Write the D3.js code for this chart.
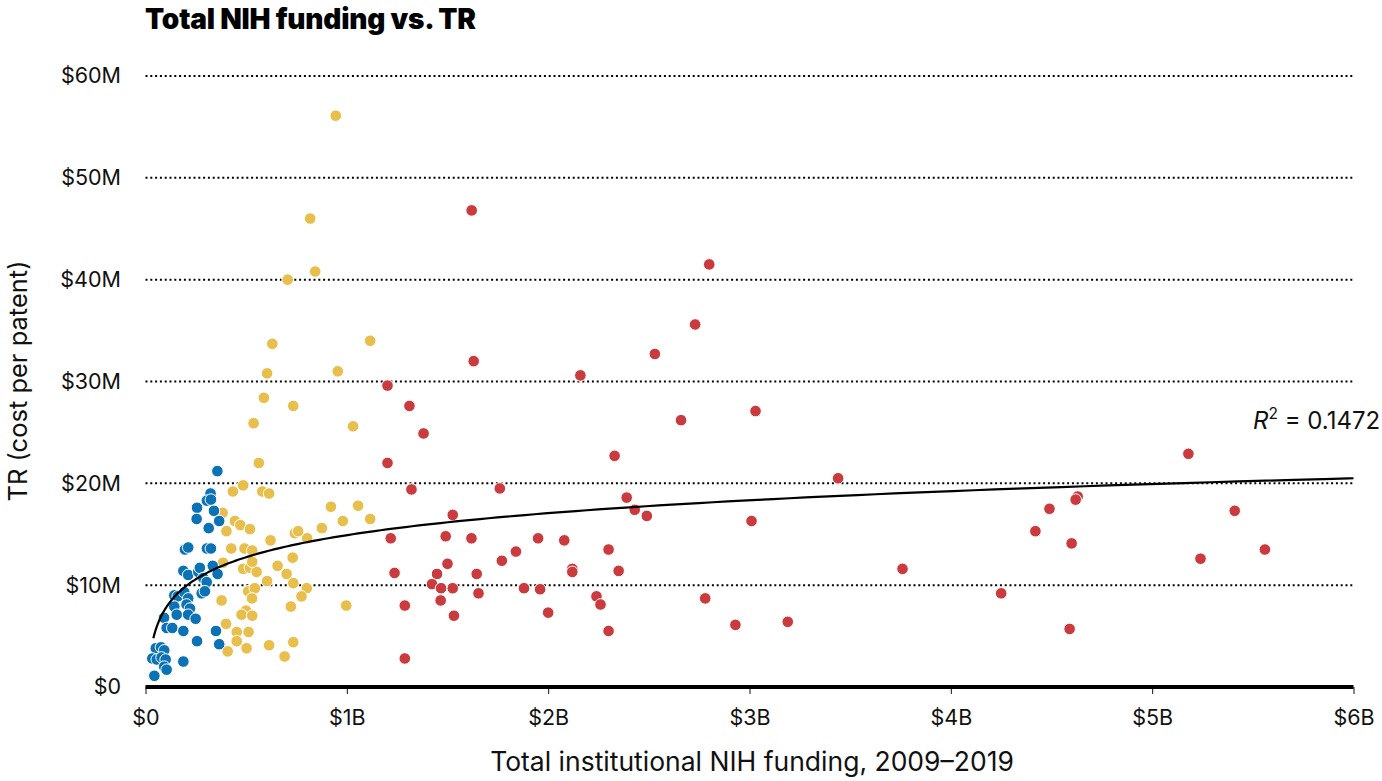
<!DOCTYPE html>
<html>
<head>
<meta charset="utf-8">
<script src="https://cdn.jsdelivr.net/npm/d3@7"></script>
<style>
  html, body { margin: 0; padding: 0; background: #fff; }
  svg { display: block; font-family: Inter, "Open Sans", sans-serif; }
</style>
</head>
<body>
<svg id="chart" width="1382" height="781"></svg>
<script>
// ---- Data (funding in $B, TR in $M) ----
const blueX = [0.357,0.323,0.305,0.325,0.256,0.340,0.254,0.366,0.314,0.196,0.212,0.305,0.325,0.188,0.212,0.262,0.270,0.334,0.358,0.287,0.304,0.279,0.295,0.143,0.160,0.193,0.212,0.143,0.204,0.221,0.155,0.212,0.249,0.092,0.105,0.133,0.188,0.350,0.256,0.366,0.051,0.077,0.093,0.034,0.056,0.080,0.100,0.188,0.093,0.105,0.044];
const blueY = [21.2,19.0,18.3,18.4,17.6,17.3,16.5,16.3,15.6,13.5,13.7,13.6,13.6,11.4,11.0,11.3,11.7,11.9,11.1,10.7,10.3,9.2,9.4,9.0,8.9,9.3,8.7,7.9,8.1,7.7,7.1,7.1,6.7,6.8,5.8,5.8,5.5,5.5,4.5,4.2,3.8,3.9,3.6,2.8,2.7,2.9,2.7,2.5,2.0,1.7,1.1];

const yellowX = [0.945,0.818,0.843,0.706,0.630,1.116,0.604,0.955,0.588,0.734,0.537,1.031,0.563,0.485,0.434,0.580,0.614,0.383,0.921,1.056,0.444,0.471,0.402,0.519,0.980,1.116,0.876,0.742,0.758,0.803,0.621,0.426,0.492,0.530,0.731,0.656,0.385,0.485,0.519,0.552,0.530,0.701,0.604,0.734,0.801,0.510,0.543,0.529,0.775,0.378,0.722,0.499,0.477,0.530,0.400,0.453,0.512,0.453,0.502,0.614,0.734,0.408,0.691,0.997];
const yellowY = [56.1,46.0,40.8,40.0,33.7,34.0,30.8,31.0,28.4,27.6,25.9,25.6,22.0,19.8,19.2,19.2,19.0,17.1,17.7,17.8,16.3,15.9,15.3,15.5,16.3,16.5,15.6,15.1,15.3,14.6,14.4,13.6,13.6,13.4,12.7,11.9,12.2,11.6,11.7,11.3,12.3,11.1,10.4,10.2,9.7,9.4,9.7,8.7,8.9,8.5,7.9,7.5,7.1,7.0,6.2,5.4,5.4,4.5,3.8,4.1,4.4,3.5,3.0,8.0];

const redX = [1.202,1.311,1.381,1.202,1.321,1.526,1.218,1.491,1.619,1.500,1.237,1.448,1.645,1.423,1.468,1.526,1.654,1.466,1.288,1.532,1.288,
              1.62,2.80,2.73,2.53,1.63,2.16,3.03,2.66,2.33,5.18,3.44,1.76,2.39,4.63,4.62,2.43,2.49,4.49,5.41,3.01,4.42,1.95,2.08,4.60,2.30,1.84,5.24,5.56,1.77,2.12,2.12,2.35,3.76,1.88,1.96,4.25,2.24,2.78,2.26,2.00,2.93,3.19,2.30,4.59];
const redY = [29.6,27.6,24.9,22.0,19.4,16.9,14.6,14.8,14.6,12.1,11.2,11.1,11.1,10.1,9.7,9.7,9.2,8.5,8.0,7.0,2.8,
              46.8,41.5,35.6,32.7,32.0,30.6,27.1,26.2,22.7,22.9,20.5,19.5,18.6,18.7,18.4,17.4,16.8,17.5,17.3,16.3,15.3,14.6,14.4,14.1,13.5,13.3,12.6,13.5,12.4,11.6,11.3,11.4,11.6,9.7,9.6,9.2,8.9,8.7,8.1,7.3,6.1,6.4,5.5,5.7];

// Log trend fit: TR = a + b * ln(funding)
const trendA = 14.91, trendB = 3.118;
const trendDomain = [0.039, 6];
const rSquared = "0.1472";

const xTicks = [0,1,2,3,4,5,6];
const xTickLabels = ["$0","$1B","$2B","$3B","$4B","$5B","$6B"];
const yTicks = [0,10,20,30,40,50,60];
const yTickLabels = ["$0","$10M","$20M","$30M","$40M","$50M","$60M"];

const colors = { blue: "#0b72b5", yellow: "#e8bf4c", red: "#c93b3f" };

// ---- Chart ----
const svg = d3.select("#chart");
const x = d3.scaleLinear().domain([0, 6]).range([145.5, 1353.5]);
const y = d3.scaleLinear().domain([0, 60]).range([687, 76]);

// title
svg.append("text")
  .attr("x", 145).attr("y", 29)
  .attr("font-size", 28).attr("font-weight", 900)
  .attr("letter-spacing", -0.2)
  .attr("fill", "#000")
  .text("Total NIH funding vs. TR");

// gridlines (dotted)
svg.append("g").selectAll("line")
  .data(yTicks.filter(d => d > 0))
  .join("line")
  .attr("x1", x(0)).attr("x2", x(6))
  .attr("y1", d => y(d)).attr("y2", d => y(d))
  .attr("stroke", "#000").attr("stroke-width", 2)
  .attr("stroke-dasharray", "2,2.8");

// y axis labels
const yAxis = d3.axisLeft(y).tickValues(yTicks)
  .tickFormat((d, i) => yTickLabels[i]).tickSize(0).tickPadding(0);
const gy = svg.append("g").attr("transform", "translate(121,0)").call(yAxis);
gy.select(".domain").remove();
gy.selectAll("text").attr("font-size", 21.5).attr("fill", "#111")
  .attr("font-family", "Inter, 'Open Sans', sans-serif");

// x axis
const xAxis = d3.axisBottom(x).tickValues(xTicks)
  .tickFormat((d, i) => xTickLabels[i]).tickSize(7).tickPadding(16);
const gx = svg.append("g").attr("transform", `translate(0,${y(0)})`).call(xAxis);
gx.select(".domain").remove();
gx.selectAll(".tick line").attr("stroke", "#111").attr("stroke-width", 1);
gx.selectAll("text").attr("font-size", 21.5).attr("fill", "#111")
  .attr("font-family", "Inter, 'Open Sans', sans-serif");

// axis titles
svg.append("text")
  .attr("transform", `translate(27,381) rotate(-90)`)
  .attr("text-anchor", "middle")
  .attr("font-size", 25.5).attr("fill", "#111")
  .text("TR (cost per patent)");

svg.append("text")
  .attr("x", 752).attr("y", 771)
  .attr("text-anchor", "middle")
  .attr("font-size", 26.5).attr("fill", "#111")
  .text("Total institutional NIH funding, 2009\u20132019");

// points
function drawSeries(xs, ys, color) {
  svg.append("g").selectAll("circle")
    .data(xs.map((v, i) => [v, ys[i]]))
    .join("circle")
    .attr("cx", d => x(d[0])).attr("cy", d => y(d[1]))
    .attr("r", 5.8)
    .attr("fill", color)
    .attr("stroke", "#fff").attr("stroke-width", 1);
}
drawSeries(redX, redY, colors.red);
drawSeries(yellowX, yellowY, colors.yellow);
drawSeries(blueX, blueY, colors.blue);

// baseline
svg.append("line")
  .attr("x1", x(0)).attr("x2", x(6))
  .attr("y1", y(0)).attr("y2", y(0))
  .attr("stroke", "#000").attr("stroke-width", 4);

// trend line
const trendX = d3.range(0, 201).map(i => trendDomain[0] * Math.pow(trendDomain[1] / trendDomain[0], i / 200));
const line = d3.line().x(d => x(d)).y(d => y(trendA + trendB * Math.log(d))).curve(d3.curveBasis);
svg.append("path")
  .datum(trendX)
  .attr("d", line)
  .attr("fill", "none").attr("stroke", "#000").attr("stroke-width", 2.2);

// R² label
const rl = svg.append("text")
  .attr("x", 1253).attr("y", 429)
  .attr("font-size", 24).attr("fill", "#111");
rl.append("tspan").attr("font-style", "italic").text("R");
rl.append("tspan").attr("font-size", 15.5).attr("dy", -10).text("2");
rl.append("tspan").attr("dy", 10).text(" = " + rSquared);
</script>
</body>
</html>
